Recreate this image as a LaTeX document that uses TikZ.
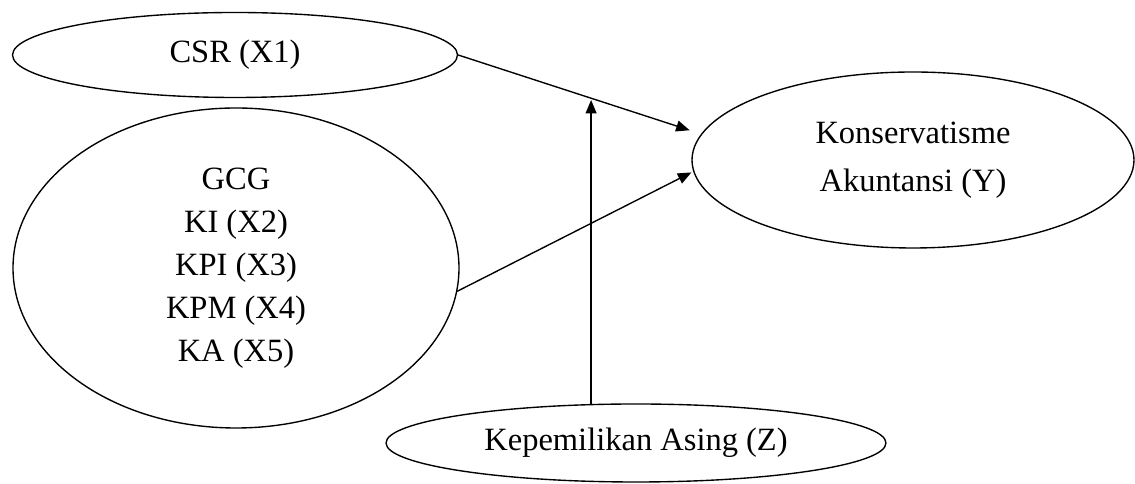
\documentclass[tikz,border=0pt]{standalone}
\usepackage{fontspec}
\setmainfont{Liberation Serif}
\usetikzlibrary{shapes.geometric,arrows.meta}
\begin{document}
\begin{tikzpicture}[x=0.4pt, y=-0.4pt, line cap=round, line join=round,
    var/.style={draw, ellipse, inner sep=0pt, line width=0.55pt, align=center,
      font=\fontsize{13}{17.2}\selectfont},
    link/.style={-{Triangle[length=5.4pt,width=4.4pt]}, line width=0.55pt}]
    \def\u{0.4pt}
    \useasboundingbox (0,0) rectangle (1135,484);
    \node[var, minimum width=445*\u, minimum height=85*\u] (csr) at (235,55) {CSR (X1)};
    \node[var, minimum width=446*\u, minimum height=320*\u] (gcg) at (236,268)
      {GCG\\KI (X2)\\KPI (X3)\\KPM (X4)\\KA (X5)};
    \node[var, minimum width=442*\u, minimum height=176*\u] (kons) at (913,160)
      {Konservatisme\\[2pt]Akuntansi (Y)};
    \node[var, minimum width=500*\u, minimum height=78*\u] (z) at (636,443) {Kepemilikan Asing (Z)};
    \coordinate (mod) at (592,100);
    \draw[link, shorten >=12*\u] (csr.east) -- (kons.173);
    \draw[link, shorten >=2*\u] (gcg.354) -- (kons.183);
    \draw[link] (z.139) -- (z.139 |- mod);
  \end{tikzpicture}
\end{document}
